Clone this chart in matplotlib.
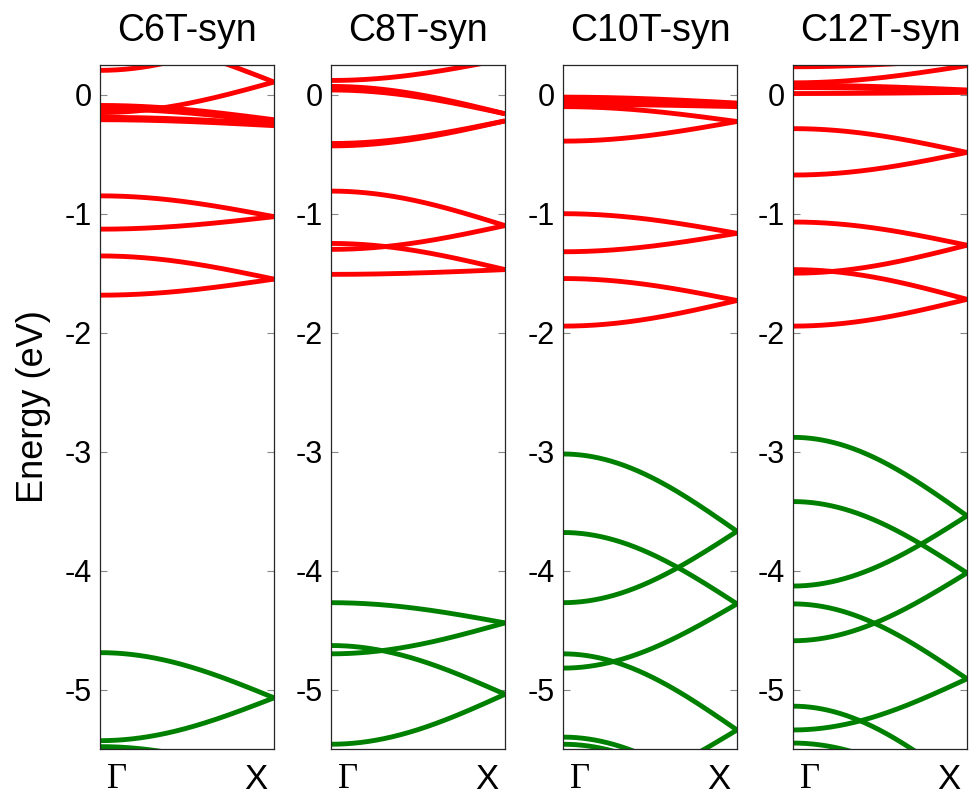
import numpy as np
import matplotlib
matplotlib.use("Agg")
import matplotlib.pyplot as plt
import matplotlib.transforms as mtransforms

plt.rcParams['font.family'] = ['Liberation Sans', 'DejaVu Sans']
plt.rcParams['axes.unicode_minus'] = False

# band energies (eV) read at Gamma and at X for every band, per structure
titles = ['C6T-syn', 'C8T-syn', 'C10T-syn', 'C12T-syn']

c6_red_g = [0.205, 0.47, -0.09, -0.12, -0.15, -0.19, -0.21, -0.85, -1.13, -1.355, -1.685]
c6_red_x = [0.57, 0.107, -0.21, -0.23, 0.107, -0.245, -0.26, -1.025, -1.025, -1.55, -1.55]
c6_grn_g = [-4.69, -5.43, -5.48]
c6_grn_x = [-5.07, -5.07, -5.75]

c8_red_g = [0.12, 0.04, 0.07, -0.41, -0.43, -0.81, -1.25, -1.30, -1.51]
c8_red_x = [0.30, -0.16, -0.16, -0.22, -0.22, -1.10, -1.47, -1.10, -1.47]
c8_grn_g = [-4.27, -4.63, -4.70, -5.46]
c8_grn_x = [-4.44, -5.04, -4.44, -5.04]

c10_red_g = [-0.02, -0.05, -0.08, -0.10, -0.39, -1.00, -1.32, -1.545, -1.945]
c10_red_x = [-0.07, -0.09, -0.10, -0.225, -0.225, -1.165, -1.165, -1.73, -1.73]
c10_grn_g = [-3.02, -3.68, -4.27, -4.70, -4.82, -5.40, -5.46, -5.90]
c10_grn_x = [-3.67, -4.28, -3.67, -5.34, -4.28, -6.0, -6.03, -5.34]

c12_red_g = [0.235, 0.10, 0.08, 0.06, 0.01, -0.285, -0.675, -1.07, -1.47, -1.50, -1.945]
c12_red_x = [0.30, 0.245, 0.04, 0.03, 0.02, -0.485, -0.485, -1.265, -1.72, -1.265, -1.72]
c12_grn_g = [-2.88, -3.42, -4.13, -4.28, -4.59, -5.14, -5.34, -5.45]
c12_grn_x = [-3.54, -4.02, -3.54, -4.91, -4.02, -5.83, -4.91, -5.97]

red_g = [c6_red_g, c8_red_g, c10_red_g, c12_red_g]
red_x = [c6_red_x, c8_red_x, c10_red_x, c12_red_x]
grn_g = [c6_grn_g, c8_grn_g, c10_grn_g, c12_grn_g]
grn_x = [c6_grn_x, c8_grn_x, c10_grn_x, c12_grn_x]

yticks = [0, -1, -2, -3, -4, -5]

k = np.linspace(0, 1, 300)


def band(eg, ex):
    # folded band: flat at Gamma, kink at X
    return ex + (eg - ex) * np.cos(np.pi * k / 2)


fig = plt.figure(figsize=(9.69, 7.98), dpi=100)
lefts = [100, 331, 563, 793]
width = 174
for i in range(4):
    ax = fig.add_axes([lefts[i] / 969, 49 / 798, width / 969, 684 / 798])
    for eg, ex in zip(red_g[i], red_x[i]):
        ax.plot(k, band(eg, ex), color='#ff0000', lw=3.5, solid_capstyle='butt')
    for eg, ex in zip(grn_g[i], grn_x[i]):
        ax.plot(k, band(eg, ex), color='#008000', lw=3.5, solid_capstyle='butt')
    ax.set_xlim(0, 1)
    ax.set_ylim(-5.5, 0.25)
    ax.set_yticks(yticks)
    ax.set_yticklabels([str(t) for t in yticks], fontsize=22)
    ax.tick_params(axis='y', direction='in', left=True, right=True, length=5,
                   width=0.8, color='#888888', pad=6)
    ax.set_xticks([0, 1])
    ax.set_xticklabels(['Γ', 'X'], fontsize=25)
    ax.tick_params(axis='x', length=0, pad=10)
    labs = ax.get_xticklabels()
    labs[0].set_fontfamily(['Liberation Serif', 'DejaVu Serif'])
    labs[0].set_transform(labs[0].get_transform() +
                          mtransforms.ScaledTranslation(0.17, 0, fig.dpi_scale_trans))
    labs[1].set_transform(labs[1].get_transform() +
                          mtransforms.ScaledTranslation(-0.18, 0, fig.dpi_scale_trans))
    for s in ax.spines.values():
        s.set_color('#262626')
        s.set_linewidth(0.9)
    ax.set_title(titles[i], fontsize=27, pad=17)
    if i == 0:
        ax.set_ylabel('Energy (eV)', fontsize=26, labelpad=10)

fig.savefig('out.png', dpi=100)
